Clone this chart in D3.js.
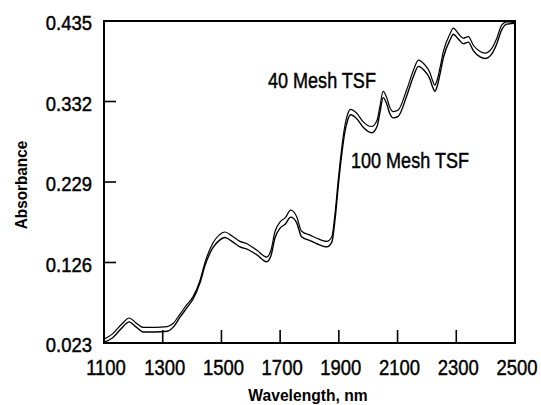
<!DOCTYPE html>
<html>
<head>
<meta charset="utf-8">
<script src="https://cdn.jsdelivr.net/npm/d3@7"></script>
<style>
  body { margin: 0; background: #fff; }
  text { font-family: "Liberation Sans", Arial, sans-serif; fill: #000; }
  text.heavy { stroke: #000; stroke-width: 0.45px; }
</style>
</head>
<body>
<div id="vis"></div>
<script>
// wavelength (nm) sampled along the curves
var wavelength = [1100, 1127, 1160, 1186, 1208, 1234, 1274, 1315, 1335, 1359, 1382, 1403, 1427, 1444,
  1471, 1492, 1512, 1536, 1563, 1587, 1620, 1654, 1669, 1682, 1700, 1717, 1736, 1756, 1773, 1802,
  1825, 1859, 1876, 1887, 1898, 1909, 1920, 1930, 1940, 1961, 1983, 2012, 2030, 2040, 2051, 2062,
  2073, 2085, 2102, 2131, 2154, 2171, 2190, 2210, 2219, 2227, 2236, 2245, 2256, 2279, 2290, 2307,
  2324, 2341, 2358, 2381, 2398, 2421, 2438, 2455, 2472, 2500];

var mesh40 = [0.028, 0.034, 0.047, 0.055, 0.049, 0.043, 0.043, 0.044, 0.048, 0.060, 0.072, 0.082, 0.103, 0.126,
  0.151, 0.161, 0.165, 0.160, 0.153, 0.150, 0.142, 0.133, 0.142, 0.165, 0.178, 0.183, 0.193, 0.185, 0.166, 0.161,
  0.157, 0.153, 0.159, 0.189, 0.232, 0.270, 0.300, 0.316, 0.322, 0.317, 0.306, 0.300, 0.308, 0.326, 0.345, 0.338,
  0.325, 0.319, 0.321, 0.347, 0.372, 0.385, 0.380, 0.369, 0.359, 0.353, 0.361, 0.376, 0.396, 0.419, 0.426, 0.419,
  0.413, 0.415, 0.404, 0.396, 0.394, 0.400, 0.413, 0.430, 0.434, 0.433];

var mesh100 = [0.024, 0.029, 0.042, 0.050, 0.044, 0.037, 0.037, 0.038, 0.043, 0.056, 0.068, 0.079, 0.100, 0.122,
  0.145, 0.154, 0.158, 0.153, 0.146, 0.143, 0.136, 0.127, 0.135, 0.157, 0.170, 0.175, 0.184, 0.177, 0.159, 0.154,
  0.150, 0.146, 0.152, 0.181, 0.224, 0.262, 0.292, 0.308, 0.315, 0.310, 0.299, 0.292, 0.300, 0.318, 0.337, 0.330,
  0.317, 0.311, 0.313, 0.339, 0.364, 0.377, 0.372, 0.361, 0.351, 0.345, 0.353, 0.368, 0.388, 0.411, 0.418, 0.412,
  0.406, 0.408, 0.397, 0.389, 0.387, 0.393, 0.406, 0.424, 0.431, 0.432];

var xTicks = [1100, 1300, 1500, 1700, 1900, 2100, 2300, 2500];
var yTicks = [0.023, 0.126, 0.229, 0.332, 0.435];

var margin = {top: 21, right: 26, bottom: 62, left: 104},
    width = 541 - margin.left - margin.right,
    height = 405 - margin.top - margin.bottom;

// the original uses a condensed face, so squeeze Liberation Sans horizontally
var squeeze = 0.84;

var svg = d3.select("#vis")
    .append("svg")
    .attr("width", 541)
    .attr("height", 405);

var g = svg.append("g")
    .attr("transform", "translate(" + margin.left + "," + margin.top + ")");

var x = d3.scaleLinear().domain([1100, 2500]).range([0, width]);
var y = d3.scaleLinear().domain([0.023, 0.435]).range([height, 0]);

// inward ticks, none at the corners
g.selectAll(".xtick")
    .data(xTicks.slice(1, -1))
    .enter().append("line")
    .attr("x1", x).attr("x2", x)
    .attr("y1", height).attr("y2", height - 13)
    .attr("stroke", "#000").attr("stroke-width", 1.6);

g.selectAll(".ytick")
    .data(yTicks.slice(1, -1))
    .enter().append("line")
    .attr("x1", 0).attr("x2", 12)
    .attr("y1", y).attr("y2", y)
    .attr("stroke", "#000").attr("stroke-width", 1.6);

// tick labels
g.selectAll(".xlabel")
    .data(xTicks)
    .enter().append("text")
    .attr("class", "heavy")
    .attr("transform", function(d) { return "translate(" + (x(d) + 2) + "," + (height + 24) + ") scale(" + squeeze + ",1)"; })
    .attr("dy", "0.35em")
    .attr("text-anchor", "middle")
    .style("font-size", "22px")
    .text(function(d) { return d; });

g.selectAll(".ylabel")
    .data(yTicks)
    .enter().append("text")
    .attr("class", "heavy")
    .attr("transform", function(d) { return "translate(-12," + (y(d) + 2) + ") scale(" + (squeeze + 0.04) + ",1)"; })
    .attr("dy", "0.35em")
    .attr("text-anchor", "end")
    .style("font-size", "21px")
    .text(function(d) { return d3.format(".3f")(d); });

// spectra
var line = d3.line()
    .x(function(d) { return x(d[0]); })
    .y(function(d) { return y(d[1]); })
    .curve(d3.curveMonotoneX);

g.append("path")
    .datum(d3.zip(wavelength, mesh40))
    .attr("d", line)
    .attr("fill", "none").attr("stroke", "#000").attr("stroke-width", 1.2);

g.append("path")
    .datum(d3.zip(wavelength, mesh100))
    .attr("d", line)
    .attr("fill", "none").attr("stroke", "#000").attr("stroke-width", 1.4);

// frame
g.append("rect")
    .attr("width", width).attr("height", height)
    .attr("fill", "none").attr("stroke", "#000").attr("stroke-width", 2);

// annotations
g.append("text")
    .attr("class", "heavy")
    .attr("transform", "translate(164,59) scale(0.82,1)")
    .attr("dy", "0.35em")
    .style("font-size", "22px")
    .text("40 Mesh TSF");

g.append("text")
    .attr("class", "heavy")
    .attr("transform", "translate(247,139) scale(0.82,1)")
    .attr("dy", "0.35em")
    .style("font-size", "22px")
    .text("100 Mesh TSF");

// axis titles
svg.append("text")
    .attr("transform", "translate(21,185) rotate(-90) scale(0.9,1)")
    .attr("dy", "0.35em")
    .attr("text-anchor", "middle")
    .style("font-size", "17px").style("font-weight", "bold")
    .text("Absorbance");

svg.append("text")
    .attr("transform", "translate(308,395) scale(0.92,1)")
    .attr("dy", "0.35em")
    .attr("text-anchor", "middle")
    .style("font-size", "17px").style("font-weight", "bold")
    .text("Wavelength, nm");
</script>
</body>
</html>
